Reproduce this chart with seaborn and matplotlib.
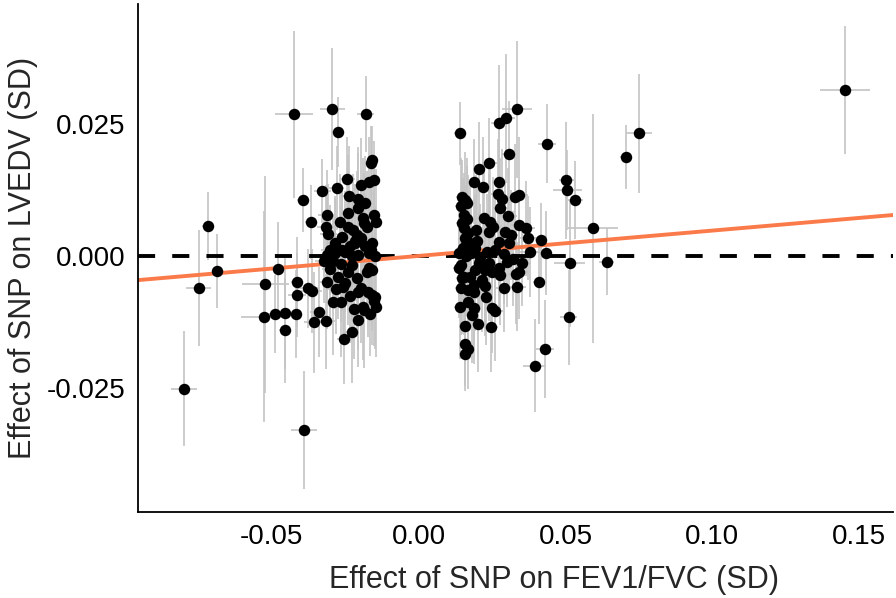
import matplotlib
matplotlib.use("Agg")
import matplotlib.pyplot as plt
import matplotlib.ticker as mtick
import seaborn as sns
import pandas as pd
import numpy as np

# SNP effects on FEV1/FVC (x) and LVEDV (y) with standard errors
# isolated SNPs
outer_x = [-0.0797, -0.0749, -0.0718, -0.0686, -0.0522, -0.0525, -0.0489, -0.0480, -0.0455, -0.0455,
           -0.0418, -0.0413, -0.0413, -0.0389, -0.0423, -0.0395, -0.0367, -0.0293, -0.0273, -0.0180,
           0.0142, 0.0335, 0.0299, 0.0275, 0.0307, 0.0437, 0.0503, 0.0506, 0.0534, 0.0594,
           0.0640, 0.0514, 0.0511, 0.0430, 0.0395, 0.0705, 0.0750, 0.1452, 0.0434, 0.0418,
           0.0409]
outer_y = [-0.0252, -0.0061, 0.0057, -0.0028, -0.0054, -0.0115, -0.0110, -0.0025, -0.0109, -0.0141,
           -0.0110, -0.0050, -0.0074, -0.0330, 0.0268, 0.0106, 0.0064, 0.0278, 0.0235, 0.0269,
           0.0232, 0.0278, 0.0262, 0.0252, 0.0194, 0.0213, 0.0143, 0.0125, 0.0106, 0.0052,
           -0.0011, -0.0014, -0.0116, -0.0176, -0.0208, 0.0188, 0.0232, 0.0314, 0.0006, 0.0030,
           -0.0049]
outer_se_x = [0.0044, 0.0043, 0.0020, 0.0015, 0.0080, 0.0080, 0.0025, 0.0020, 0.0020, 0.0020,
              0.0020, 0.0020, 0.0030, 0.0044, 0.0064, 0.0020, 0.0020, 0.0043, 0.0020, 0.0030,
              0.0020, 0.0050, 0.0030, 0.0030, 0.0025, 0.0030, 0.0025, 0.0050, 0.0025, 0.0085,
              0.0025, 0.0054, 0.0030, 0.0030, 0.0040, 0.0020, 0.0043, 0.0086, 0.0020, 0.0020,
              0.0020]
outer_se_y = [0.0109, 0.0110, 0.0065, 0.0070, 0.0205, 0.0200, 0.0074, 0.0090, 0.0105, 0.0100,
              0.0084, 0.0085, 0.0080, 0.0112, 0.0158, 0.0060, 0.0070, 0.0116, 0.0066, 0.0072,
              0.0060, 0.0130, 0.0120, 0.0110, 0.0100, 0.0075, 0.0110, 0.0075, 0.0073, 0.0217,
              0.0063, 0.0120, 0.0090, 0.0093, 0.0088, 0.0061, 0.0112, 0.0121, 0.0080, 0.0070,
              0.0080]

# SNPs lowering FEV1/FVC
left_x = [-0.0157, -0.0163, -0.0242, -0.0150, -0.0170, -0.0195, -0.0327, -0.0279, -0.0236, -0.0207,
          -0.0182, -0.0207, -0.0313, -0.0241, -0.0153, -0.0146, -0.0267, -0.0188, -0.0176, -0.0316,
          -0.0239, -0.0307, -0.0210, -0.0195, -0.0284, -0.0262, -0.0233, -0.0218, -0.0159, -0.0161,
          -0.0182, -0.0301, -0.0310, -0.0284, -0.0250, -0.0227, -0.0205, -0.0170, -0.0148, -0.0290,
          -0.0265, -0.0227, -0.0176, -0.0159, -0.0170, -0.0210, -0.0273, -0.0258, -0.0250, -0.0207,
          -0.0173, -0.0159, -0.0148, -0.0310, -0.0375, -0.0364, -0.0356, -0.0339, -0.0316, -0.0290,
          -0.0265, -0.0253, -0.0227, -0.0207, -0.0190, -0.0185, -0.0144, -0.0151, -0.0195, -0.0240,
          -0.0300, -0.0322, -0.0187, -0.0222, -0.0260, -0.0280, -0.0235, -0.0165, -0.0220, -0.0215]
left_y = [0.0182, 0.0177, 0.0145, 0.0143, 0.0140, 0.0134, 0.0123, 0.0129, 0.0114, 0.0107,
          0.0100, 0.0090, 0.0078, 0.0081, 0.0078, 0.0065, 0.0065, 0.0071, 0.0055, 0.0055,
          0.0055, 0.0042, 0.0040, 0.0034, 0.0024, 0.0011, 0.0018, 0.0024, 0.0024, 0.0011,
          0.0018, 0.0011, 0.0002, 0.0005, 0.0008, -0.0001, 0.0002, 0.0005, -0.0001, -0.0010,
          -0.0015, -0.0017, -0.0030, -0.0027, -0.0023, -0.0042, -0.0039, -0.0058, -0.0052, -0.0068,
          -0.0068, -0.0074, -0.0077, -0.0049, -0.0061, -0.0066, -0.0126, -0.0106, -0.0124, -0.0088,
          -0.0087, -0.0158, -0.0145, -0.0121, -0.0097, -0.0102, -0.0096, -0.0085, -0.0060, -0.0030,
          -0.0025, -0.0010, 0.0062, 0.0050, 0.0035, -0.0062, -0.0075, -0.0110, -0.0100, 0.0028]
left_se_x = [0.0020, 0.0020, 0.0025, 0.0020, 0.0020, 0.0025, 0.0030, 0.0025, 0.0025, 0.0020,
             0.0020, 0.0025, 0.0030, 0.0025, 0.0020, 0.0020, 0.0025, 0.0020, 0.0020, 0.0030,
             0.0025, 0.0030, 0.0025, 0.0020, 0.0025, 0.0025, 0.0025, 0.0020, 0.0020, 0.0020,
             0.0020, 0.0030, 0.0030, 0.0025, 0.0025, 0.0025, 0.0020, 0.0020, 0.0020, 0.0030,
             0.0025, 0.0025, 0.0020, 0.0020, 0.0020, 0.0025, 0.0025, 0.0025, 0.0025, 0.0020,
             0.0020, 0.0020, 0.0020, 0.0030, 0.0035, 0.0035, 0.0035, 0.0030, 0.0030, 0.0030,
             0.0025, 0.0025, 0.0025, 0.0020, 0.0020, 0.0020, 0.0020, 0.0020, 0.0020, 0.0025,
             0.0030, 0.0030, 0.0020, 0.0025, 0.0025, 0.0030, 0.0025, 0.0020, 0.0025, 0.0025]
left_se_y = [0.0065, 0.0070, 0.0080, 0.0075, 0.0085, 0.0090, 0.0060, 0.0080, 0.0095, 0.0100,
             0.0090, 0.0105, 0.0085, 0.0110, 0.0095, 0.0100, 0.0090, 0.0115, 0.0105, 0.0080,
             0.0110, 0.0095, 0.0120, 0.0100, 0.0090, 0.0115, 0.0105, 0.0110, 0.0095, 0.0120,
             0.0100, 0.0085, 0.0090, 0.0105, 0.0115, 0.0110, 0.0120, 0.0100, 0.0095, 0.0085,
             0.0110, 0.0105, 0.0090, 0.0115, 0.0100, 0.0095, 0.0080, 0.0090, 0.0105, 0.0110,
             0.0085, 0.0095, 0.0100, 0.0090, 0.0075, 0.0080, 0.0095, 0.0085, 0.0090, 0.0100,
             0.0105, 0.0085, 0.0095, 0.0090, 0.0100, 0.0110, 0.0095, 0.0085, 0.0105, 0.0100,
             0.0090, 0.0080, 0.0095, 0.0105, 0.0100, 0.0085, 0.0090, 0.0080, 0.0095, 0.0100]

# SNPs raising FEV1/FVC
right_x = [0.0241, 0.0207, 0.0188, 0.0218, 0.0275, 0.0148, 0.0165, 0.0157, 0.0270, 0.0284,
           0.0327, 0.0341, 0.0278, 0.0153, 0.0148, 0.0222, 0.0244, 0.0305, 0.0153, 0.0170,
           0.0159, 0.0197, 0.0239, 0.0293, 0.0341, 0.0366, 0.0176, 0.0193, 0.0275, 0.0307,
           0.0373, 0.0233, 0.0261, 0.0139, 0.0381, 0.0146, 0.0136, 0.0153, 0.0148, 0.0176,
           0.0193, 0.0205, 0.0227, 0.0239, 0.0250, 0.0273, 0.0278, 0.0301, 0.0341, 0.0333,
           0.0352, 0.0188, 0.0188, 0.0227, 0.0335, 0.0230, 0.0142, 0.0170, 0.0188, 0.0182,
           0.0250, 0.0261, 0.0157, 0.0202, 0.0247, 0.0159, 0.0168, 0.0157, 0.0160, 0.0180,
           0.0210, 0.0290, 0.0320, 0.0150, 0.0165, 0.0200, 0.0255, 0.0315, 0.0145, 0.0160,
           0.0215, 0.0170, 0.0290, 0.0145]
right_y = [0.0177, 0.0164, 0.0141, 0.0131, 0.0141, 0.0112, 0.0100, 0.0106, 0.0117, 0.0107,
           0.0112, 0.0116, 0.0090, 0.0078, 0.0062, 0.0071, 0.0065, 0.0076, 0.0052, 0.0043,
           0.0034, 0.0049, 0.0045, 0.0046, 0.0059, 0.0052, 0.0024, 0.0015, 0.0027, 0.0024,
           0.0034, 0.0008, 0.0011, 0.0005, 0.0008, -0.0017, -0.0023, -0.0039, -0.0042, -0.0039,
           -0.0027, -0.0014, -0.0027, -0.0014, -0.0030, -0.0023, -0.0036, -0.0011, -0.0030, -0.0034,
           -0.0014, -0.0055, -0.0068, -0.0057, -0.0058, -0.0078, -0.0096, -0.0088, -0.0099, -0.0112,
           -0.0099, -0.0105, -0.0133, -0.0129, -0.0134, -0.0167, -0.0177, -0.0186, 0.0000, 0.0005,
           -0.0002, 0.0003, -0.0005, 0.0015, 0.0070, 0.0028, 0.0055, 0.0040, 0.0095, 0.0020,
           -0.0045, -0.0065, -0.0060, -0.0060]
right_se_x = [0.0025, 0.0020, 0.0020, 0.0025, 0.0025, 0.0020, 0.0020, 0.0020, 0.0025, 0.0025,
              0.0030, 0.0030, 0.0025, 0.0020, 0.0020, 0.0025, 0.0025, 0.0030, 0.0020, 0.0020,
              0.0020, 0.0020, 0.0025, 0.0025, 0.0030, 0.0030, 0.0020, 0.0020, 0.0025, 0.0025,
              0.0030, 0.0025, 0.0025, 0.0020, 0.0035, 0.0020, 0.0020, 0.0020, 0.0020, 0.0020,
              0.0020, 0.0020, 0.0025, 0.0025, 0.0025, 0.0025, 0.0025, 0.0025, 0.0030, 0.0030,
              0.0030, 0.0020, 0.0020, 0.0025, 0.0030, 0.0025, 0.0020, 0.0020, 0.0020, 0.0020,
              0.0025, 0.0025, 0.0020, 0.0020, 0.0025, 0.0020, 0.0020, 0.0020, 0.0020, 0.0020,
              0.0020, 0.0025, 0.0030, 0.0020, 0.0020, 0.0020, 0.0025, 0.0030, 0.0020, 0.0020,
              0.0025, 0.0020, 0.0025, 0.0020]
right_se_y = [0.0085, 0.0090, 0.0080, 0.0095, 0.0100, 0.0070, 0.0085, 0.0090, 0.0105, 0.0095,
              0.0100, 0.0110, 0.0095, 0.0080, 0.0085, 0.0100, 0.0105, 0.0090, 0.0095, 0.0110,
              0.0100, 0.0105, 0.0110, 0.0095, 0.0085, 0.0090, 0.0115, 0.0100, 0.0105, 0.0090,
              0.0080, 0.0110, 0.0100, 0.0090, 0.0085, 0.0100, 0.0095, 0.0110, 0.0105, 0.0100,
              0.0115, 0.0095, 0.0105, 0.0110, 0.0100, 0.0090, 0.0095, 0.0085, 0.0090, 0.0095,
              0.0080, 0.0105, 0.0100, 0.0095, 0.0085, 0.0090, 0.0100, 0.0095, 0.0105, 0.0090,
              0.0085, 0.0095, 0.0080, 0.0090, 0.0085, 0.0080, 0.0075, 0.0070, 0.0110, 0.0105,
              0.0100, 0.0095, 0.0090, 0.0105, 0.0100, 0.0110, 0.0095, 0.0085, 0.0090, 0.0105,
              0.0100, 0.0095, 0.0085, 0.0090]

# IVW estimate (line through origin)
ivw_slope = 0.048

x_ticks = [-0.05, 0.00, 0.05, 0.10, 0.15]
x_tick_labels = ["-0.05", "0.00", "0.05", "0.10", "0.15"]
y_ticks = [-0.025, 0.000, 0.025]
y_tick_labels = ["-0.025", "0.000", "0.025"]

df = pd.DataFrame({
    'beta_x': outer_x + left_x + right_x,
    'beta_y': outer_y + left_y + right_y,
    'se_x': outer_se_x + left_se_x + right_se_x,
    'se_y': outer_se_y + left_se_y + right_se_y,
})

sns.set_style("white")
plt.rcParams['font.family'] = ['Liberation Sans', 'DejaVu Sans']
plt.rcParams['axes.unicode_minus'] = False

fig = plt.figure(figsize=(8.96, 5.98), dpi=100)
ax = fig.add_axes([0.154, 0.144, 0.843, 0.849])

ax.errorbar(df['beta_x'], df['beta_y'], xerr=df['se_x'], yerr=df['se_y'],
            fmt='none', ecolor='#c4c4c4', elinewidth=1.2, capsize=0, zorder=1)
ax.axhline(0, color='black', lw=2.8, dashes=(4.4, 4.4), zorder=2)
ax.axline((0, 0), slope=ivw_slope, color='#fb7a4a', lw=2.8, zorder=2)
sns.scatterplot(data=df, x='beta_x', y='beta_y', ax=ax, color='black',
                s=68, edgecolor='black', linewidth=0, zorder=3)

ax.set_xlim(-0.0955, 0.1616)
ax.set_ylim(-0.0485, 0.0477)
ax.set_xticks(x_ticks)
ax.set_xticklabels(x_tick_labels)
ax.set_yticks(y_ticks)
ax.set_yticklabels(y_tick_labels)
ax.tick_params(axis='both', labelsize=20, length=4, width=1, color='#333333',
               labelcolor='black', direction='out', pad=5)

for side in ['top', 'right']:
    ax.spines[side].set_visible(False)
for side in ['left', 'bottom']:
    ax.spines[side].set_color('black')
    ax.spines[side].set_linewidth(1.3)

ax.set_xlabel('Effect of SNP on FEV1/FVC (SD)', fontsize=22)
ax.set_ylabel('Effect of SNP on LVEDV (SD)', fontsize=22)
# the panel in the source runs past the right edge, so the x title sits right of centre
ax.xaxis.set_label_coords(0.551, -0.105)
ax.yaxis.set_label_coords(-0.133, 0.5)

fig.savefig("out.png", dpi=100)
